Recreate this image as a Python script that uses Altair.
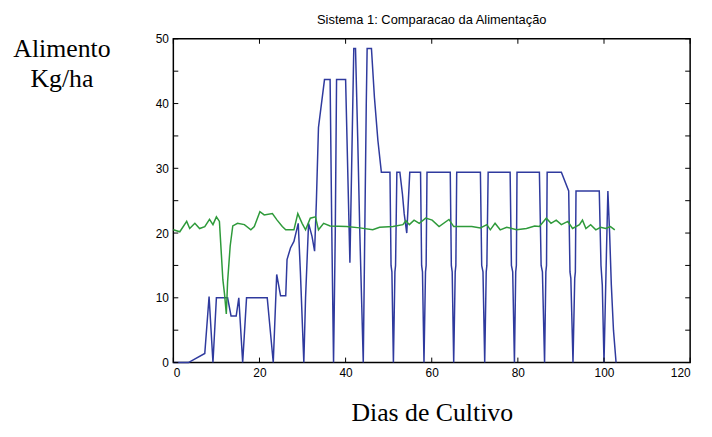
import altair as alt
import pandas as pd

# Blue series (days, kg/ha)
blue_x = [0, 3.5, 7.3, 8.3, 9.2, 10.0, 12.6, 13.4, 14.6, 15.2, 16.1, 17.0, 21.8, 23.2, 24.0,
          24.9, 26.1, 26.4, 27.2, 28.0, 29.0, 29.5, 30.3, 30.7, 31.4, 32.2, 32.8, 33.2, 33.7,
          35.1, 36.4, 36.8, 37.2, 37.6, 37.9, 40.0, 41.0, 41.9, 42.3, 42.8, 43.3, 44.1, 44.8,
          45.0, 46.0, 46.7, 47.5, 48.3, 50.3, 50.55, 50.75, 51.1, 51.45, 51.6, 51.9, 52.6,
          53.2, 53.6, 54.2, 54.5, 54.9, 57.4, 57.65, 57.85, 58.2, 58.55, 58.7, 58.9, 64.3,
          64.55, 64.75, 65.1, 65.45, 65.6, 65.8, 71.3, 71.6, 71.9, 72.3, 72.65, 72.8, 73.1,
          78.2, 78.5, 78.8, 79.2, 79.5, 79.65, 79.8, 85.0, 85.4, 85.7, 86.2, 86.5, 86.65,
          86.8, 90.1, 91.8, 92.1, 92.3, 92.8, 93.2, 93.35, 93.5, 98.9, 99.3, 99.6, 100.0,
          100.5, 100.9, 101.3, 101.7, 102.2, 102.8]
blue_y = [0, 0, 1.4, 10.2, 0, 10, 10, 7.2, 7.2, 10, 0, 10, 10, 0, 13.6,
          10.3, 10.3, 15.9, 17.7, 18.7, 21.5, 14, 0, 10, 21.5, 19.5, 17.2, 24.6, 36.3,
          43.7, 43.7, 20, 0, 20, 43.7, 43.7, 15.4, 48.5, 48.5, 35, 20, 0, 40,
          48.5, 48.5, 40.9, 34.3, 29.4, 29.4, 15, 14, 0, 14, 15, 29.4, 29.4,
          26, 23, 20, 24, 29.4, 29.4, 15, 14, 0, 14, 15, 29.4, 29.4,
          15, 14, 0, 14, 15, 29.4, 29.4, 15, 14, 0, 14, 15, 29.4,
          29.4, 15, 14, 0, 14, 15, 29.4, 29.4, 15, 14, 0, 14, 15,
          29.4, 29.4, 26.5, 14, 13, 0, 13, 14, 26.5, 26.5, 15, 12, 0,
          15, 26.5, 20, 12, 5, 0]

# Green series
green_x = [0, 1.5, 3.1, 3.8, 5.0, 6.1, 7.3, 8.4, 9.2, 10.0, 10.7, 11.5, 11.9, 12.3, 12.6,
           13.2, 13.8, 14.9, 16.5, 18.0, 18.8, 20.1, 21.1, 23.0, 24.1, 25.3, 26.1, 28.0,
           28.9, 29.9, 30.7, 31.8, 33.0, 33.7, 34.9, 36.4, 40.2, 43.3, 46.3, 47.9, 51.0,
           53.3, 54.0, 54.8, 55.9, 57.1, 58.6, 60.1, 61.7, 64.0, 65.1, 69.3, 71.3, 72.8,
           73.6, 74.7, 75.9, 77.4, 79.7, 82.0, 83.9, 85.0, 86.6, 87.7, 88.9, 90.1, 91.6,
           92.7, 94.3, 95.0, 95.8, 96.9, 98.1, 99.2, 100.4, 101.5, 102.5]
green_y = [20.5, 20.2, 21.8, 20.7, 21.5, 20.7, 21.0, 22.1, 21.3, 22.5, 21.8, 12.8, 10.5, 7.5, 12.5,
           18.0, 21.1, 21.5, 21.3, 20.5, 21.0, 23.3, 22.8, 23.0, 22.0, 21.0, 20.5, 20.5,
           23.0, 21.5, 20.5, 22.3, 22.5, 20.5, 21.5, 21.1, 21.0, 20.8, 20.5, 20.9, 21.0,
           21.3, 21.9, 21.3, 22.0, 21.5, 22.3, 22.0, 21.0, 22.1, 21.0, 21.0, 20.8, 21.3,
           20.5, 21.5, 20.5, 20.9, 20.5, 20.7, 21.1, 21.0, 22.3, 21.5, 22.0, 21.3, 21.8,
           20.7, 21.3, 22.0, 20.7, 21.3, 20.5, 20.9, 20.7, 21.0, 20.5]

x_ticks = [0, 20, 40, 60, 80, 100, 120]
y_ticks = [0, 5, 10, 15, 20, 25, 30, 35, 40, 45, 50]

title_text = "Sistema 1: Comparacao da Alimentação"
x_title = "Dias de Cultivo"
y_title = ["Alimento", "Kg/ha"]

W, H = 522, 327

blue_df = pd.DataFrame({"dia": blue_x, "valor": blue_y})
green_df = pd.DataFrame({"dia": green_x, "valor": green_y})
xt_df = pd.DataFrame({"t": x_ticks})
yt_df = pd.DataFrame({"t": y_ticks})

xscale = alt.Scale(domain=[0, 120], nice=False)
yscale = alt.Scale(domain=[0, 50], nice=False)

xaxis = alt.Axis(values=x_ticks, grid=False, ticks=False, domain=False,
                 labelFont="Liberation Sans", labelFontSize=12, labelColor="black",
                 labelPadding=5, title=x_title, titleFont="Liberation Serif",
                 titleFontSize=26, titleFontWeight="normal", titleColor="black",
                 titleX=W / 2, titleY=59, titleAlign="center", titleBaseline="alphabetic")
yaxis = alt.Axis(values=y_ticks, grid=False, ticks=False, domain=False,
                 labelFont="Liberation Sans", labelFontSize=12, labelColor="black",
                 labelPadding=5, title=y_title, titleFont="Liberation Serif",
                 titleFontSize=26, titleFontWeight="normal", titleColor="black",
                 titleAngle=0, titleX=-113, titleY=18, titleAlign="center",
                 titleBaseline="alphabetic", titleLineHeight=30)

blue = alt.Chart(blue_df).mark_line(color="#2f3a9e", strokeWidth=1.5).encode(
    x=alt.X("dia:Q", scale=xscale, axis=xaxis),
    y=alt.Y("valor:Q", scale=yscale, axis=yaxis),
    order="dia:Q",
)
green = alt.Chart(green_df).mark_line(color="#2e9a3a", strokeWidth=1.5).encode(
    x=alt.X("dia:Q", scale=xscale),
    y=alt.Y("valor:Q", scale=yscale),
    order="dia:Q",
)

tick_style = dict(color="black", strokeWidth=1)
bt = alt.Chart(xt_df).mark_rule(**tick_style).encode(
    x=alt.X("t:Q", scale=xscale), y=alt.value(H), y2=alt.value(H - 5))
tt = alt.Chart(xt_df).mark_rule(**tick_style).encode(
    x=alt.X("t:Q", scale=xscale), y=alt.value(0), y2=alt.value(5))
lt = alt.Chart(yt_df).mark_rule(**tick_style).encode(
    y=alt.Y("t:Q", scale=yscale), x=alt.value(0), x2=alt.value(5))
rt = alt.Chart(yt_df).mark_rule(**tick_style).encode(
    y=alt.Y("t:Q", scale=yscale), x=alt.value(W), x2=alt.value(W - 5))

chart = alt.layer(blue, green, bt, tt, lt, rt).properties(
    width=W, height=H,
    background="white",
    title=alt.TitleParams(title_text, font="Liberation Sans", fontSize=13,
                          fontWeight="normal", color="black", offset=6,
                          anchor="middle", frame="group"),
    autosize=alt.AutoSizeParams(type="none"),
    padding={"left": 167, "top": 29, "right": 14, "bottom": 65},
).configure_view(stroke="black", strokeWidth=1.5)

chart.save("out.html", embed_options={"renderer": "svg", "actions": False})
